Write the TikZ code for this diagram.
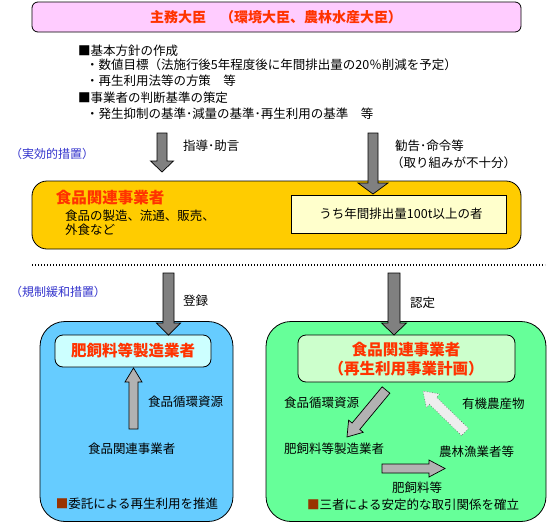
\documentclass[tikz,border=0pt]{standalone}
\usepackage{fontspec}
\setmainfont{Noto Sans CJK JP}
\usetikzlibrary{calc}
\definecolor{pinkc}{HTML}{FFCCFF}
\definecolor{redt}{HTML}{FF3300}
\definecolor{yellowc}{HTML}{FFCC00}
\definecolor{lyellow}{HTML}{FFFFCC}
\definecolor{bluec}{HTML}{66CCFF}
\definecolor{lcyan}{HTML}{CCFFFF}
\definecolor{greenc}{HTML}{66FF99}
\definecolor{lgreen}{HTML}{CCFFCC}
\definecolor{bluet}{HTML}{3333CC}
\definecolor{brownc}{HTML}{993300}
\definecolor{darkarr}{HTML}{808080}
\definecolor{midarr}{HTML}{B2B2B2}
\definecolor{lightarr}{HTML}{EEEEEE}
% #1 style, #2 from, #3 to, #4 shaft half width, #5 head half width, #6 head length
\newcommand\blockarr[6]{%
  \path ($(#3)!#6!(#2)$) coordinate (hb);
  \draw[#1] ($(#2)!#4!90:(#3)$) -- ($(hb)!#4!90:(#3)$) -- ($(hb)!#5!90:(#3)$)
    -- (#3) -- ($(hb)!#5!-90:(#3)$) -- ($(hb)!#4!-90:(#3)$) -- ($(#2)!#4!-90:(#3)$) -- cycle;
}
\begin{document}
\begin{tikzpicture}[x=1pt,y=-1pt,
  every node/.style={inner sep=0pt,outer sep=0pt},
  txt/.style={anchor=west,font=\fontsize{12.5}{14}\selectfont},
  bluelbl/.style={txt,text=bluet,font=\fontsize{12}{14}\selectfont},
  box/.style={draw=black,line width=0.8pt},
  redtitle/.style={text=redt,font=\fontsize{15.5}{19}\selectfont\bfseries},
  darkfill/.style={fill=darkarr,draw=black,line width=0.7pt},
  midfill/.style={fill=midarr,draw=black,line width=0.7pt},
  lightfill/.style={fill=lightarr,draw=black!60,line width=0.6pt,dotted}]
\useasboundingbox (0,0) rectangle (547,523);
% top box
\node[box,fill=pinkc,rounded corners=6pt,minimum width=489,minimum height=30] (minister) at (276.5,17) {};
\node[text=redt,font=\fontsize{14}{16}\selectfont\bfseries] (mintitle) at (276,17) {主務大臣　（環境大臣、農林水産大臣）};
% list
\node[txt] (l1) at (78,51) {■基本方針の作成};
\node[txt] (l2) at (86,65) {・数値目標（法施行後5年程度後に年間排出量の20％削減を予定）};
\node[txt] (l3) at (86,81) {・再生利用法等の方策　等};
\node[txt] (l4) at (78,98) {■事業者の判断基準の策定};
\node[txt] (l5) at (86,114) {・発生抑制の基準･減量の基準･再生利用の基準　等};
% labels upper
\node[bluelbl] (eff) at (10,154) {（実効的措置）};
\node[txt] (shido) at (183,146) {指導･助言};
\node[txt] (kankoku) at (395,146) {勧告･命令等};
\node[txt] (torikumi) at (391,163) {（取り組みが不十分）};
% yellow box
\node[box,fill=yellowc,rounded corners=15pt,minimum width=489,minimum height=68] (food) at (276.5,215) {};
\node[redtitle,anchor=west] (foodtitle) at (56,198) {食品関連事業者};
\node[txt] (food1) at (65,216) {食品の製造、流通、販売、};
\node[txt] (food2) at (65,230) {外食など};
\node[draw=black,line width=0.8pt,fill=lyellow,minimum width=215,minimum height=38] (big) at (398.5,214) {};
\node[font=\fontsize{12.5}{14}\selectfont] (bigtxt) at (401,214) {うち年間排出量100t以上の者};
% arrows upper
\coordinate (a1s) at (162,133); \coordinate (a1e) at (162,172);
\blockarr{darkfill}{a1s}{a1e}{5pt}{11.5pt}{11pt}
\coordinate (a2s) at (373,133); \coordinate (a2e) at (373,194);
\blockarr{darkfill}{a2s}{a2e}{5pt}{15pt}{11pt}
% dotted separator
\coordinate (dl) at (32,265); \coordinate (dr) at (545,265);
\draw[line width=1.3pt,dash pattern=on 1.3pt off 1.7pt] (dl) -- (dr);
\node[bluelbl] (reg) at (10,292) {（規制緩和措置）};
\node[txt] (toroku) at (183,301) {登録};
\node[txt] (nintei) at (410,303) {認定};
% blue box
\node[box,fill=bluec,rounded corners=25pt,minimum width=193,minimum height=200] (bluebox) at (136.5,421.5) {};
\node[box,fill=lcyan,rounded corners=8pt,minimum width=156,minimum height=32] (maker) at (133,351) {};
\node[redtitle] (makertxt) at (133,351) {肥飼料等製造業者};
\node[txt] (bres) at (148,402) {食品循環資源};
\node[txt] (bfood) at (88,449) {食品関連事業者};
\node[txt] (bnote) at (56,504) {\textcolor{brownc}{■}委託による再生利用を推進};
% green box
\node[box,fill=greenc,rounded corners=25pt,minimum width=280,minimum height=200] (greenbox) at (406,421.5) {};
\node[box,fill=lgreen,rounded corners=8pt,minimum width=217,minimum height=47] (plan) at (406.5,358.5) {};
\node[redtitle,align=center,font=\fontsize{15.5}{19}\selectfont\bfseries] (plantxt) at (406,359) {食品関連事業者\\（再生利用事業計画）};
\node[txt] (gres) at (284,403) {食品循環資源};
\node[txt] (gorg) at (462,404) {有機農産物};
\node[txt] (gmaker) at (284,449) {肥飼料等製造業者};
\node[txt] (gfarm) at (439,452) {農林漁業者等};
\node[txt] (gfeed) at (392,488) {肥飼料等};
\node[txt] (gnote) at (307,505) {\textcolor{brownc}{■}三者による安定的な取引関係を確立};
% arrows lower
\coordinate (a3s) at (168.5,273); \coordinate (a3e) at (168.5,335);
\blockarr{darkfill}{a3s}{a3e}{5.5pt}{12pt}{12pt}
\coordinate (a4s) at (394,273); \coordinate (a4e) at (394,335);
\blockarr{darkfill}{a4s}{a4e}{6pt}{12.5pt}{12pt}
\coordinate (a5s) at (133.5,429); \coordinate (a5e) at (133.5,368);
\blockarr{midfill}{a5s}{a5e}{4.5pt}{8.5pt}{14pt}
\coordinate (a6s) at (386,390); \coordinate (a6e) at (347,437);
\blockarr{midfill}{a6s}{a6e}{5pt}{9.5pt}{14pt}
\coordinate (a7s) at (465,432); \coordinate (a7e) at (423,391);
\blockarr{lightfill}{a7s}{a7e}{5pt}{9.5pt}{14pt}
\coordinate (a8s) at (382,468.5); \coordinate (a8e) at (445,468.5);
\blockarr{midfill}{a8s}{a8e}{4.5pt}{8.5pt}{16pt}
\end{tikzpicture}
\end{document}
